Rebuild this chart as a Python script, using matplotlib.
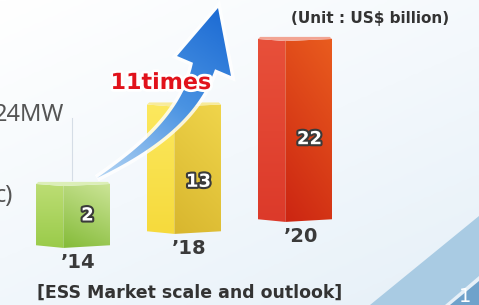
import numpy as np
import matplotlib.pyplot as plt
import matplotlib.patheffects as pe
from matplotlib.patches import Polygon
from matplotlib.colors import LinearSegmentedColormap

# Data
years = ["’14", "’18", "’20"]
values = [2, 13, 22]
growth_label = "11times"
unit_label = "(Unit : US$ billion)"
caption = "[ESS Market scale and outlook]"

W, H = 479, 305
fig = plt.figure(figsize=(4.79, 3.05), dpi=100)


def pixel_axes(z):
    a = fig.add_axes([0, 0, 1, 1], zorder=z)
    a.axis('off')
    a.patch.set_alpha(0)
    return a


def gradient(axis, verts, colors, angle=90, zorder=1):
    verts = np.asarray(verts, float)
    poly = Polygon(verts, closed=True, fc='none', ec='none')
    axis.add_patch(poly)
    x0, y0 = verts.min(0)
    x1, y1 = verts.max(0)
    gx, gy = np.meshgrid(np.linspace(0, 1, 128), np.linspace(0, 1, 128))
    th = np.deg2rad(angle)
    g = gx * np.cos(th) + gy * np.sin(th)
    g = (g - g.min()) / (g.max() - g.min())
    cmap = LinearSegmentedColormap.from_list('g', colors)
    im = axis.imshow(g, cmap=cmap, extent=(x0, x1, y0, y1), origin='lower',
                     aspect='auto', interpolation='bilinear', zorder=zorder)
    im.set_clip_path(poly)


bg = pixel_axes(0)
ax = pixel_axes(1)
fg = pixel_axes(2)

# background and slide decorations
gradient(bg, [(0, 0), (W, 0), (W, H), (0, H)], ['#ffffff', '#f3f8fc', '#e6f0f8'], angle=55, zorder=0)
bg.add_patch(Polygon([(370, 305), (479, 216), (479, 276), (445, 305)], fc='#a9cbe3', ec='none', zorder=1))
bg.add_patch(Polygon([(450, 305), (479, 281), (479, 305)], fc='#6fa2cb', ec='none', zorder=1))
bg.text(465, 297, '1', color='white', fontsize=14, ha='center', va='center', zorder=2)
# partly cut-off text from the slide's left column
bg.text(64, 115, '24MW', ha='right', va='center', fontsize=17, color='#555555',
        family='Noto Sans')
bg.text(13, 196, 'c)', ha='right', va='center', fontsize=17, color='#555555',
        family='Noto Sans')
bg.plot([72, 72], [118, 180], color='#d5dde6', lw=0.8)
bg.text(370, 19, unit_label, ha='center', va='center', fontsize=11,
        fontweight='bold', color='#333333')
bg.text(190, 293, caption, ha='center', va='center', fontsize=12.5,
        fontweight='bold', color='#333333')

# 3D-looking bars
floor = -8.9
lift = [0, 14 / 5.95, 26 / 5.95]
width = 0.667
face_colors = [
    (['#9acb4a', '#bcdd74'], ['#84bb38', '#cbe496'], '#dcefb8'),
    (['#f6da3c', '#fce85e'], ['#d8b62e', '#f0d54b'], '#f8eb9a'),
    (['#dc3a2a', '#e8503a'], ['#cc2512', '#e95c1e'], '#f2a493'),
]
label_pos = [0.5, 0.4, 0.45]
for i, v in enumerate(values):
    xl, xr = i - width / 2, i + width / 2
    xm = xl + 0.37 * width
    base = floor + lift[i]
    top = v + lift[i]
    left_c, right_c, top_c = face_colors[i]
    gradient(ax, [(xl, base + 0.45), (xm, base), (xm, top - 0.5), (xl, top - 0.15)], left_c, angle=90, zorder=2)
    gradient(ax, [(xm, base), (xr, base + 0.45), (xr, top - 0.15), (xm, top - 0.5)], right_c, angle=70, zorder=2)
    ax.add_patch(Polygon([(xl, top - 0.15), (xm, top - 0.5), (xr, top - 0.15),
                          (xr - 0.02, top + 0.2), (xl + 0.02, top + 0.2)],
                         fc=top_c, ec='none', zorder=3))
    ax.text(i + 0.13, base + label_pos[i] * (top - base), str(v), color='white', fontsize=13,
            fontweight='bold', ha='center', va='center', zorder=4,
            path_effects=[pe.withStroke(linewidth=3, foreground='#3a3a3a')])
    ax.text(i + 0.05, base - 2.4, years[i], ha='center', va='center', fontsize=14,
            fontweight='bold', color='#3a3a3a', zorder=4)

# curved growth arrow
P = np.array([[97, 178], [150, 147], [190, 114], [204, 66]], float)
t = np.linspace(0, 1, 80)[:, None]
pts = (1 - t) ** 3 * P[0] + 3 * (1 - t) ** 2 * t * P[1] + 3 * (1 - t) * t ** 2 * P[2] + t ** 3 * P[3]
der = 3 * (1 - t) ** 2 * (P[1] - P[0]) + 6 * (1 - t) * t * (P[2] - P[1]) + 3 * t ** 2 * (P[3] - P[2])
der = der / np.linalg.norm(der, axis=1, keepdims=True)
nrm = np.column_stack([-der[:, 1], der[:, 0]])
hw = 11.5 * t ** 0.9
side_a = pts + nrm * hw
side_b = pts - nrm * hw
arrow = np.vstack([side_b, [[177, 56], [218, 8], [231, 76]], side_a[::-1]])
fg.add_patch(Polygon(arrow, closed=True, fc='none', ec='white', lw=5, alpha=0.8, zorder=1))
gradient(fg, arrow, ['#b4d5f4', '#4a93e2', '#1a69d3'], angle=-60, zorder=2)
fg.text(161, 83, growth_label, color='#e1121b', fontsize=16, fontweight='bold',
        ha='center', va='center', zorder=3,
        path_effects=[pe.withStroke(linewidth=4, foreground='white')])

for a in (bg, fg):
    a.set_xlim(0, W)
    a.set_ylim(H, 0)
ax.set_xlim(-0.658, 3.658)
ax.set_ylim(-18.49, 32.77)

fig.savefig('out.png', dpi=100)
